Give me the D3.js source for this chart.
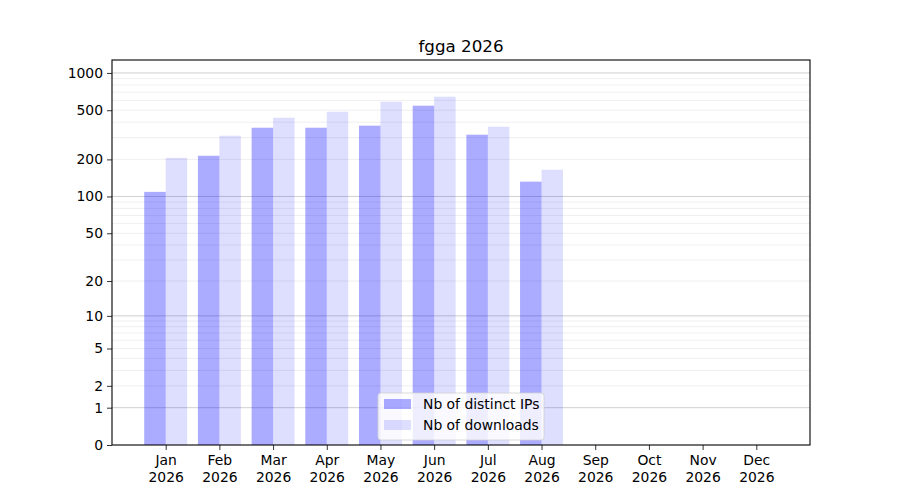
<!DOCTYPE html>
<html>
<head>
<meta charset="utf-8">
<script src="https://cdn.jsdelivr.net/npm/d3@7"></script>
<style>
  body { margin: 0; background: #fff; }
  svg { font-family: "DejaVu Sans", sans-serif; }
</style>
</head>
<body>
<svg class="chart" width="900" height="500"></svg>
<script>
const months = ["Jan", "Feb", "Mar", "Apr", "May", "Jun", "Jul", "Aug", "Sep", "Oct", "Nov", "Dec"]
const year = "2026"
const distinctIPs = [109, 214, 361, 361, 375, 544, 317, 132, 0, 0, 0, 0]
const downloads = [206, 311, 435, 486, 586, 643, 368, 165, 0, 0, 0, 0]
const yTicks = [0, 1, 2, 5, 10, 20, 50, 100, 200, 500, 1000]
const seriesNames = ["Nb of distinct IPs", "Nb of downloads"]

const margin = { left: 112, right: 90, top: 60, bottom: 55 }
const width = 900, height = 500

const svg = d3.select(".chart")

// categorical positions, xlim(-1, 12)
const x = d3.scaleLinear()
    .domain([-1, 12])
    .range([margin.left, width - margin.right])

// symlog with constant 1 -> log(1 + v)
const y = d3.scaleSymlog()
    .constant(1)
    .domain([0, 1272])
    .range([height - margin.bottom, margin.top])

// minor grid 2..9 per decade
const minor = []
for (let dec = 1; dec <= 100; dec *= 10)
    for (let m = 2; m <= 9; m++) minor.push(m * dec)

svg.append("g")
    .selectAll("line")
    .data(minor)
    .enter().append("line")
    .attr("x1", margin.left).attr("x2", width - margin.right)
    .attr("y1", d => y(d)).attr("y2", d => y(d))
    .attr("stroke", "#ebebeb")
    .attr("stroke-width", 0.8)

svg.append("g")
    .selectAll("line")
    .data([1, 10, 100, 1000])
    .enter().append("line")
    .attr("x1", margin.left).attr("x2", width - margin.right)
    .attr("y1", d => y(d)).attr("y2", d => y(d))
    .attr("stroke", "#c4c4c4")
    .attr("stroke-width", 0.8)

const bw = x(0.4) - x(0)

svg.append("g")
    .selectAll("rect")
    .data(distinctIPs)
    .enter().append("rect")
    .attr("x", (d, i) => x(i) - bw)
    .attr("width", bw)
    .attr("y", d => y(d))
    .attr("height", d => y(0) - y(d))
    .attr("fill", "blue")
    .attr("fill-opacity", 0.33)

svg.append("g")
    .selectAll("rect")
    .data(downloads)
    .enter().append("rect")
    .attr("x", (d, i) => x(i))
    .attr("width", bw)
    .attr("y", d => y(d))
    .attr("height", d => y(0) - y(d))
    .attr("fill", "blue")
    .attr("fill-opacity", 0.13)

// axes
const yAxis = svg.append("g")
    .attr("transform", `translate(${margin.left},0)`)
    .call(d3.axisLeft(y).tickValues(yTicks).tickFormat(d3.format("d")).tickSize(5).tickPadding(4))
yAxis.select(".domain").remove()
yAxis.selectAll("text").attr("font-size", 13.9).attr("fill", "#000").attr("font-family", "DejaVu Sans")
yAxis.selectAll("line").attr("stroke", "#000").attr("stroke-width", 0.8)

const xAxis = svg.append("g")
    .attr("transform", `translate(0,${height - margin.bottom})`)
    .call(d3.axisBottom(x).tickValues(d3.range(12)).tickFormat("").tickSize(5))
xAxis.select(".domain").remove()
xAxis.selectAll("line").attr("stroke", "#000").attr("stroke-width", 0.8)
xAxis.selectAll(".tick").each(function (d) {
    const t = d3.select(this).append("text")
        .attr("fill", "#000")
        .attr("font-size", 13.9)
        .attr("font-family", "DejaVu Sans")
        .attr("text-anchor", "middle")
    t.append("tspan").attr("x", 0).attr("y", 20).text(months[d])
    t.append("tspan").attr("x", 0).attr("y", 37).text(year)
})

// frame
svg.append("rect")
    .attr("x", margin.left).attr("y", margin.top)
    .attr("width", width - margin.left - margin.right)
    .attr("height", height - margin.top - margin.bottom)
    .attr("fill", "none")
    .attr("stroke", "#000")
    .attr("stroke-width", 1.1)

svg.append("text")
    .attr("x", (margin.left + width - margin.right) / 2)
    .attr("y", 52)
    .attr("text-anchor", "middle")
    .attr("font-size", 16.7)
    .text("fgga " + year)

// legend
const legend = svg.append("g").attr("transform", "translate(378,393)")
legend.append("rect")
    .attr("width", 166).attr("height", 47)
    .attr("rx", 3)
    .attr("fill", "#fff").attr("fill-opacity", 0.8)
    .attr("stroke", "#d0d0d0").attr("stroke-width", 0.8)
const opac = [0.33, 0.13]
seriesNames.forEach((name, i) => {
    legend.append("rect")
        .attr("x", 6).attr("y", 6 + i * 21)
        .attr("width", 27).attr("height", 10)
        .attr("fill", "blue").attr("fill-opacity", opac[i])
    legend.append("text")
        .attr("x", 45).attr("y", 16 + i * 21)
        .attr("font-size", 13.9)
        .text(name)
})
</script>
</body>
</html>
